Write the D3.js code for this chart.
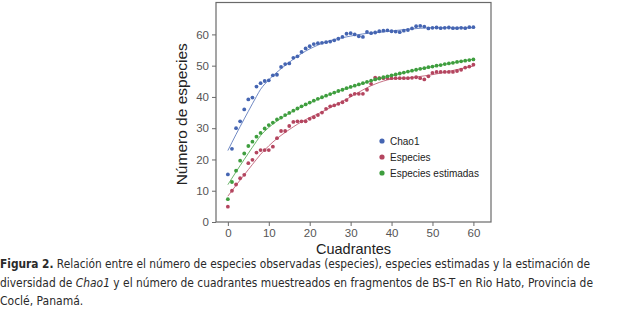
<!DOCTYPE html>
<html>
<head>
<meta charset="utf-8">
<script src="https://cdn.jsdelivr.net/npm/d3@7"></script>
<style>
  body { margin: 0; background: #fff; }
  svg { display: block; }
</style>
</head>
<body>
<div id="chart"></div>
<script>
// cuadrantes 0..60
const cuadrantes = d3.range(0, 61);

const chao1 = [15.2, 23.4, 30.0, 32.2, 36.0, 39.2, 39.8, 43.3, 44.4, 45.1,
  45.3, 46.9, 47.1, 49.6, 50.5, 50.7, 52.5, 53.0, 54.4, 55.5,
  56.2, 56.9, 57.2, 57.3, 57.5, 57.7, 58.1, 58.6, 59.2, 60.2,
  60.4, 60.0, 59.4, 59.2, 60.8, 60.4, 60.6, 61.0, 61.2, 61.3,
  61.0, 60.9, 60.7, 61.2, 61.4, 61.9, 62.6, 62.7, 62.5, 61.9,
  62.1, 62.2, 62.0, 62.1, 62.2, 62.0, 62.0, 62.1, 62.0, 62.3, 62.3];

const especies = [4.9, 10.0, 12.0, 14.0, 15.1, 18.8, 19.9, 22.2, 23.0, 23.0,
  23.0, 24.1, 26.8, 29.1, 29.1, 30.7, 32.0, 32.2, 32.2, 32.2,
  33.0, 33.5, 34.2, 35.0, 36.2, 37.0, 37.3, 37.8, 38.3, 39.0,
  40.5, 41.0, 41.0, 41.0, 42.3, 44.2, 46.2, 46.0, 46.0, 46.0,
  46.0, 46.0, 46.0, 46.0, 46.0, 46.1, 46.3, 46.0, 45.6, 46.6,
  47.7, 48.0, 48.0, 48.0, 48.0, 48.0, 48.3, 48.7, 49.4, 49.7, 50.3];

const estimadas = [7.3, 12.8, 16.4, 19.6, 21.9, 24.3, 25.7, 27.3, 28.5, 29.9,
  31.0, 31.8, 32.8, 33.4, 34.2, 34.9, 35.6, 36.3, 37.0, 37.6,
  38.2, 38.8, 39.4, 39.9, 40.4, 40.9, 41.4, 41.9, 42.3, 42.8,
  43.2, 43.6, 44.0, 44.4, 44.8, 45.2, 45.6, 45.9, 46.3, 46.6,
  46.9, 47.2, 47.5, 47.8, 48.1, 48.4, 48.7, 49.0, 49.2, 49.5,
  49.7, 50.0, 50.2, 50.5, 50.7, 50.9, 51.2, 51.4, 51.6, 51.8, 52.0];

const xTicks = [0, 10, 20, 30, 40, 50, 60];
const yTicks = [0, 10, 20, 30, 40, 50, 60];

const seriesNames = ['Chao1', 'Especies', 'Especies estimadas'];
const seriesValues = [chao1, especies, estimadas];
const seriesColors = ['#4565b2', '#b4455f', '#3e9e3e'];

const W = 622, H = 316;
const svg = d3.select('#chart').append('svg')
  .attr('width', W).attr('height', H)
  .attr('font-family', 'Arial, "Liberation Sans", sans-serif');

// plot frame
const box = { left: 216, right: 491, top: 2.5, bottom: 222 };

const x = d3.scaleLinear().domain([-2.9, 64.3]).range([box.left, box.right]);
const y = d3.scaleLinear().domain([0, 70.2]).range([box.bottom, box.top]);

svg.append('rect')
  .attr('x', box.left).attr('y', box.top)
  .attr('width', box.right - box.left).attr('height', box.bottom - box.top)
  .attr('fill', 'none').attr('stroke', '#6a6a6a').attr('stroke-width', 1.2);

// axes
const xAxis = svg.append('g')
  .attr('transform', `translate(0,${box.bottom})`)
  .call(d3.axisBottom(x).tickValues(xTicks).tickSize(4).tickSizeOuter(0));
const yAxis = svg.append('g')
  .attr('transform', `translate(${box.left},0)`)
  .call(d3.axisLeft(y).tickValues(yTicks).tickSize(4).tickSizeOuter(0));

[xAxis, yAxis].forEach(a => {
  a.select('.domain').remove();
  a.selectAll('line').attr('stroke', '#6a6a6a');
  a.selectAll('text').attr('fill', '#555').attr('font-size', '11.5px')
    .attr('font-family', 'Arial, "Liberation Sans", sans-serif');
});

// axis titles
svg.append('text')
  .attr('x', (box.left + box.right) / 2).attr('y', 253.5)
  .attr('text-anchor', 'middle').attr('font-size', '14.5px').attr('fill', '#222')
  .text('Cuadrantes');

svg.append('text')
  .attr('transform', `translate(187,${(box.top + box.bottom) / 2 + 2}) rotate(-90)`)
  .attr('text-anchor', 'middle').attr('font-size', '15.5px').attr('fill', '#222')
  .text('Número de especies');

// simple loess smoother for the fitted lines
function loess(xs, ys, span) {
  const n = xs.length, q = Math.floor(span * n);
  return xs.map(x0 => {
    const d = xs.map(xi => Math.abs(xi - x0));
    const h = d.slice().sort((a, b) => a - b)[q - 1] || 1;
    let sw = 0, sx = 0, sy = 0, sxx = 0, sxy = 0;
    xs.forEach((xi, i) => {
      const u = d[i] / h;
      if (u >= 1) return;
      const w = Math.pow(1 - u * u * u, 3);
      sw += w; sx += w * xi; sy += w * ys[i]; sxx += w * xi * xi; sxy += w * xi * ys[i];
    });
    const mx = sx / sw, my = sy / sw;
    const b = (sxy / sw - mx * my) / (sxx / sw - mx * mx);
    return my + b * (x0 - mx);
  });
}

const line = d3.line().x(d => x(d[0])).y(d => y(d[1])).curve(d3.curveMonotoneX);

seriesValues.forEach((vals, k) => {
  const fit = loess(cuadrantes, vals, 0.3);
  svg.append('path')
    .attr('d', line(cuadrantes.map((c, i) => [c, fit[i]])))
    .attr('fill', 'none')
    .attr('stroke', seriesColors[k])
    .attr('stroke-width', 0.9)
    .attr('opacity', 0.85);
});

seriesValues.forEach((vals, k) => {
  svg.append('g').selectAll('circle')
    .data(cuadrantes)
    .join('circle')
    .attr('cx', d => x(d))
    .attr('cy', (d, i) => y(vals[i]))
    .attr('r', 1.9)
    .attr('fill', seriesColors[k]);
});

// legend
const legend = svg.append('g').attr('transform', 'translate(382,141)');
seriesNames.forEach((name, k) => {
  const row = legend.append('g').attr('transform', `translate(0,${k * 16})`);
  row.append('circle').attr('r', 2.6).attr('fill', seriesColors[k]);
  row.append('text').attr('x', 8).attr('dy', '0.35em')
    .attr('font-size', '10px').attr('fill', '#222').text(name);
});

// caption
const capFont = '"Liberation Sans Narrow", "DejaVu Sans Condensed", "Open Sans", sans-serif';
const cap = svg.append('g').attr('font-family', capFont).attr('font-size', '12px').attr('fill', '#2a2a2a');

const l1 = cap.append('text').attr('x', 0).attr('y', 268)
  .attr('textLength', 590).attr('lengthAdjust', 'spacingAndGlyphs');
l1.append('tspan').attr('font-weight', 'bold').text('Figura 2.');
l1.append('tspan').text(' Relación entre el número de especies observadas (especies), especies estimadas y la estimación de');

const l2 = cap.append('text').attr('x', 0).attr('y', 286.5)
  .attr('textLength', 593).attr('lengthAdjust', 'spacingAndGlyphs');
l2.append('tspan').text('diversidad de ');
l2.append('tspan').attr('font-style', 'italic').text('Chao1');
l2.append('tspan').text(' y el número de cuadrantes muestreados en fragmentos de BS-T en Rio Hato, Provincia de');

cap.append('text').attr('x', 0).attr('y', 304.5)
  .text('Coclé, Panamá.');
</script>
</body>
</html>
